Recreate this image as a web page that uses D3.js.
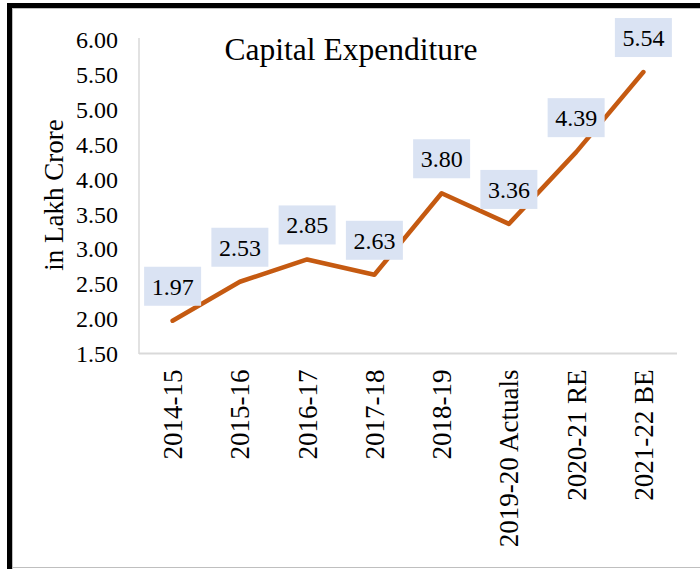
<!DOCTYPE html>
<html>
<head>
<meta charset="utf-8">
<script src="https://cdn.jsdelivr.net/npm/d3@7"></script>
<style>
  html, body { margin: 0; padding: 0; background: #fff; }
  svg { display: block; }
  text { font-family: "Liberation Serif", "Times New Roman", serif !important; fill: #000; }
</style>
</head>
<body>
<svg id="chart" width="700" height="569"></svg>
<script>
const categories = ["2014-15", "2015-16", "2016-17", "2017-18", "2018-19", "2019-20 Actuals", "2020-21 RE", "2021-22 BE"];
const values = [1.97, 2.53, 2.85, 2.63, 3.80, 3.36, 4.39, 5.54];
const yTicks = [1.50, 2.00, 2.50, 3.00, 3.50, 4.00, 4.50, 5.00, 5.50, 6.00];
const title = "Capital Expenditure";
const yTitle = "in Lakh Crore";

const svg = d3.select("#chart");
const W = 700, H = 569;

// frame
svg.append("rect").attr("x", 7).attr("y", 3).attr("width", W - 7).attr("height", 5).attr("fill", "#000");
svg.append("rect").attr("x", 7).attr("y", 3).attr("width", 5).attr("height", H - 3).attr("fill", "#000");
svg.append("line").attr("x1", 12).attr("x2", W).attr("y1", 8.5).attr("y2", 8.5).attr("stroke", "#bfbfbf").attr("stroke-width", 1);
svg.append("line").attr("x1", 12.5).attr("x2", 12.5).attr("y1", 8).attr("y2", H).attr("stroke", "#bfbfbf").attr("stroke-width", 1);
svg.append("line").attr("x1", 12).attr("x2", W).attr("y1", 567.5).attr("y2", 567.5).attr("stroke", "#bfbfbf").attr("stroke-width", 1);

const plot = { left: 139, right: 677, top: 40, bottom: 353.5 };

const x = d3.scalePoint().domain(categories).range([plot.left, plot.right]).padding(0.5);
const y = d3.scaleLinear().domain([1.5, 6]).range([plot.bottom, plot.top]);

// y axis
const yAxis = d3.axisLeft(y).tickValues(yTicks).tickFormat(d3.format(".2f")).tickSize(0).tickPadding(21);
const gy = svg.append("g").attr("transform", `translate(${plot.left},0)`).call(yAxis);
gy.attr("font-family", null);
gy.select(".domain").remove();
gy.selectAll("text").style("font-size", "24px").attr("dy", "0.33em");
svg.append("line").attr("x1", plot.left).attr("x2", plot.left).attr("y1", 38).attr("y2", 354)
  .attr("stroke", "#d9d9d9").attr("stroke-width", 1.5);

// x axis
const xAxis = d3.axisBottom(x).tickSize(0).tickPadding(0);
const gx = svg.append("g").attr("transform", `translate(0,${plot.bottom})`).call(xAxis);
gx.attr("font-family", null);
gx.select(".domain").remove();
gx.selectAll("text")
  .style("font-size", "27px")
  .attr("text-anchor", "end")
  .attr("transform", "rotate(-90)")
  .attr("x", -16)
  .attr("y", 0)
  .attr("dy", "0.33em");
svg.append("line").attr("x1", plot.left).attr("x2", plot.right).attr("y1", 353.5).attr("y2", 353.5)
  .attr("stroke", "#d9d9d9").attr("stroke-width", 2);

// line
const line = d3.line().x((d, i) => x(categories[i])).y(d => y(d));
svg.append("path").datum(values).attr("d", line)
  .attr("fill", "none").attr("stroke", "#c55a11").attr("stroke-width", 4.5)
  .attr("stroke-linejoin", "round").attr("stroke-linecap", "round");

// data labels
const lab = svg.append("g").selectAll("g").data(values).join("g")
  .attr("transform", (d, i) => `translate(${x(categories[i])},${y(d) - 34.5})`);
lab.append("rect").attr("x", -28.5).attr("y", -19.5).attr("width", 57).attr("height", 39).attr("fill", "#dae3f3");
lab.append("text").attr("text-anchor", "middle").attr("dy", "0.35em").style("font-size", "24px")
  .text(d => d3.format(".2f")(d));

// title
svg.append("text").attr("x", 351).attr("y", 60).attr("text-anchor", "middle").style("font-size", "31.5px").text(title);

// y title
svg.append("text").attr("transform", "translate(63,195) rotate(-90)").attr("text-anchor", "middle")
  .style("font-size", "27px").text(yTitle);
</script>
</body>
</html>
